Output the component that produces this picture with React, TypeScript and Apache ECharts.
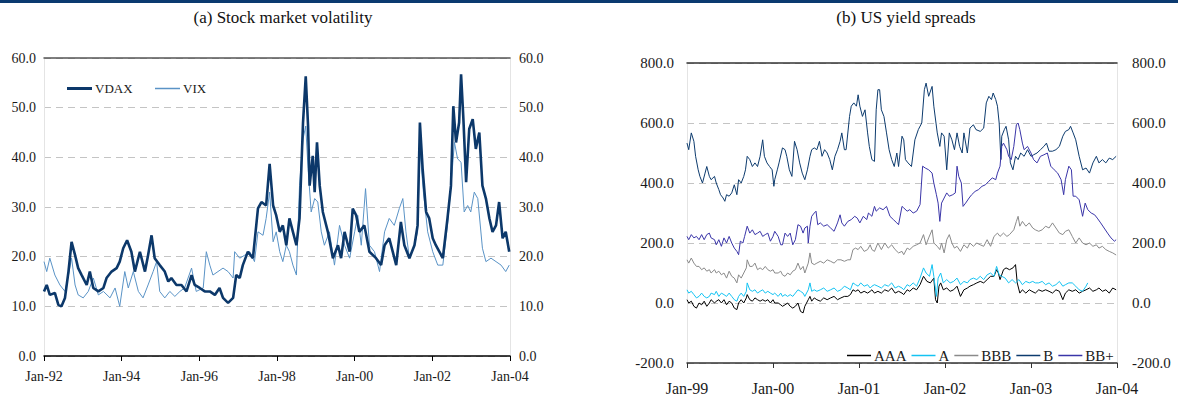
import React, { useEffect, useRef } from "react";
import * as echarts from "echarts";

// ---------- (a) Stock market volatility: [decimal year, level] ----------
const VDAX: [number, number][] = [[1992.00,13.0],[1992.07,14.3],[1992.15,12.3],[1992.28,12.7],[1992.37,10.3],[1992.45,10.0],[1992.54,11.7],[1992.63,17.0],[1992.71,23.0],[1992.80,20.3],[1992.88,17.7],[1992.97,16.3],[1993.10,14.3],[1993.18,17.0],[1993.27,13.7],[1993.40,13.0],[1993.53,13.7],[1993.61,15.7],[1993.74,17.0],[1993.87,17.7],[1993.95,19.0],[1994.04,21.7],[1994.14,23.3],[1994.25,21.0],[1994.34,17.0],[1994.47,21.0],[1994.60,17.0],[1994.68,20.3],[1994.77,24.3],[1994.85,19.7],[1994.98,18.3],[1995.11,17.0],[1995.20,15.0],[1995.28,15.7],[1995.41,14.3],[1995.54,14.3],[1995.67,13.0],[1995.80,16.3],[1995.88,14.3],[1996.01,13.7],[1996.14,13.0],[1996.27,13.0],[1996.40,12.3],[1996.52,13.7],[1996.61,11.7],[1996.74,10.7],[1996.87,11.7],[1996.95,16.3],[1997.04,15.7],[1997.12,18.3],[1997.25,21.0],[1997.38,19.7],[1997.51,29.7],[1997.60,31.0],[1997.72,30.3],[1997.81,38.7],[1997.90,30.3],[1997.98,28.3],[1998.07,25.0],[1998.15,26.3],[1998.24,22.3],[1998.32,27.7],[1998.41,25.0],[1998.50,22.3],[1998.58,27.7],[1998.67,47.0],[1998.74,56.3],[1998.80,46.3],[1998.84,34.3],[1998.92,40.3],[1998.97,33.0],[1999.03,43.0],[1999.10,34.3],[1999.18,29.0],[1999.31,25.0],[1999.44,19.7],[1999.57,22.3],[1999.65,19.7],[1999.74,25.0],[1999.87,21.0],[1999.95,29.7],[2000.04,28.3],[2000.12,25.0],[2000.25,26.3],[2000.38,21.0],[2000.55,19.7],[2000.68,18.3],[2000.77,22.3],[2000.89,23.7],[2000.98,21.0],[2001.07,18.3],[2001.19,27.0],[2001.28,22.3],[2001.41,19.7],[2001.54,22.3],[2001.62,26.3],[2001.68,47.0],[2001.75,37.7],[2001.84,29.0],[2001.92,27.7],[2002.01,23.7],[2002.09,22.3],[2002.18,21.0],[2002.27,19.7],[2002.39,27.7],[2002.48,34.3],[2002.54,50.3],[2002.61,43.0],[2002.69,47.0],[2002.74,56.7],[2002.80,47.7],[2002.87,35.0],[2002.95,45.7],[2003.04,47.7],[2003.12,41.7],[2003.21,45.0],[2003.29,34.3],[2003.38,31.7],[2003.47,27.7],[2003.55,25.0],[2003.64,26.3],[2003.72,31.0],[2003.81,23.7],[2003.89,25.0],[2003.98,21.0]];

const VIX: [number, number][] = [[1992.00,19.0],[1992.07,17.0],[1992.15,19.7],[1992.28,16.3],[1992.41,14.3],[1992.54,13.0],[1992.63,16.3],[1992.71,19.7],[1992.80,14.3],[1992.88,12.3],[1993.01,11.7],[1993.14,13.0],[1993.27,15.7],[1993.40,12.3],[1993.53,13.0],[1993.70,11.7],[1993.83,13.7],[1993.95,10.0],[1994.08,17.0],[1994.17,13.7],[1994.30,17.0],[1994.43,13.0],[1994.55,11.7],[1994.68,14.3],[1994.81,17.0],[1994.90,19.0],[1994.98,13.0],[1995.11,11.7],[1995.24,13.0],[1995.37,12.0],[1995.50,13.0],[1995.62,13.7],[1995.80,17.7],[1995.92,13.0],[1996.10,13.7],[1996.18,21.0],[1996.27,18.3],[1996.35,16.3],[1996.48,17.0],[1996.61,17.7],[1996.74,17.0],[1996.87,15.7],[1996.91,21.0],[1997.04,19.7],[1997.17,20.3],[1997.30,21.0],[1997.42,19.0],[1997.51,25.0],[1997.64,24.3],[1997.72,27.7],[1997.81,33.0],[1997.90,23.0],[1997.98,25.0],[1998.07,21.0],[1998.15,19.0],[1998.24,22.3],[1998.32,21.0],[1998.41,18.3],[1998.50,16.3],[1998.58,34.3],[1998.67,43.7],[1998.74,46.3],[1998.80,37.7],[1998.88,29.0],[1998.97,31.7],[1999.05,31.0],[1999.14,25.0],[1999.22,22.3],[1999.35,25.0],[1999.48,18.3],[1999.61,26.3],[1999.74,22.3],[1999.87,19.7],[2000.00,25.0],[2000.08,28.3],[2000.17,22.3],[2000.28,33.7],[2000.38,22.3],[2000.51,21.0],[2000.64,17.0],[2000.77,25.0],[2000.89,27.7],[2001.02,26.3],[2001.15,29.7],[2001.24,31.7],[2001.32,25.0],[2001.41,19.7],[2001.54,22.3],[2001.62,25.0],[2001.68,41.7],[2001.77,33.0],[2001.88,25.0],[2002.01,21.0],[2002.14,18.3],[2002.27,18.3],[2002.39,26.3],[2002.48,34.3],[2002.57,43.0],[2002.65,39.7],[2002.74,39.0],[2002.82,29.0],[2002.91,30.3],[2002.99,29.0],[2003.08,33.0],[2003.17,31.7],[2003.29,21.7],[2003.38,19.0],[2003.51,19.7],[2003.64,19.0],[2003.77,18.3],[2003.89,17.0],[2003.98,18.3]];

// ---------- (b) US yield spreads: [decimal year, basis points] ----------
const AAA: [number, number][] = [[1999.00,11],[1999.02,0],[1999.05,6],[1999.08,-11],[1999.11,-17],[1999.14,0],[1999.17,-6],[1999.20,6],[1999.23,-11],[1999.26,0],[1999.28,11],[1999.32,0],[1999.34,6],[1999.37,11],[1999.40,0],[1999.43,11],[1999.46,-6],[1999.49,6],[1999.52,0],[1999.55,-17],[1999.58,-22],[1999.60,0],[1999.63,11],[1999.66,0],[1999.69,17],[1999.70,28],[1999.73,11],[1999.76,6],[1999.79,17],[1999.82,11],[1999.85,6],[1999.88,11],[1999.91,6],[1999.94,11],[1999.97,0],[2000.00,11],[2000.02,0],[2000.06,0],[2000.09,-6],[2000.11,-11],[2000.14,-6],[2000.17,0],[2000.20,-11],[2000.23,-17],[2000.26,-11],[2000.29,0],[2000.32,-28],[2000.35,-33],[2000.37,-11],[2000.41,11],[2000.43,22],[2000.45,6],[2000.48,17],[2000.51,11],[2000.55,6],[2000.59,17],[2000.63,11],[2000.67,17],[2000.71,22],[2000.75,11],[2000.79,17],[2000.83,22],[2000.87,22],[2000.90,28],[2000.93,44],[2000.96,39],[2000.99,44],[2001.02,33],[2001.06,39],[2001.10,33],[2001.13,39],[2001.15,44],[2001.18,33],[2001.22,39],[2001.26,33],[2001.30,44],[2001.34,39],[2001.38,50],[2001.42,33],[2001.46,39],[2001.50,33],[2001.52,28],[2001.56,44],[2001.59,39],[2001.63,50],[2001.67,44],[2001.71,61],[2001.75,89],[2001.79,72],[2001.83,67],[2001.87,83],[2001.89,11],[2001.91,0],[2001.93,56],[2001.95,67],[2001.98,44],[2002.02,50],[2002.06,39],[2002.10,44],[2002.14,56],[2002.18,22],[2002.22,44],[2002.26,50],[2002.29,56],[2002.33,61],[2002.37,67],[2002.41,72],[2002.45,67],[2002.49,78],[2002.53,89],[2002.57,89],[2002.60,111],[2002.62,100],[2002.64,78],[2002.68,111],[2002.71,117],[2002.75,111],[2002.79,117],[2002.82,128],[2002.84,67],[2002.87,33],[2002.90,44],[2002.94,33],[2002.98,44],[2003.01,39],[2003.05,33],[2003.09,44],[2003.13,39],[2003.17,44],[2003.21,39],[2003.25,33],[2003.29,44],[2003.33,39],[2003.37,11],[2003.40,33],[2003.44,44],[2003.48,39],[2003.52,44],[2003.56,33],[2003.60,39],[2003.64,44],[2003.68,50],[2003.72,39],[2003.76,44],[2003.79,50],[2003.83,39],[2003.87,44],[2003.91,33],[2003.95,50],[2003.99,44]];

const A: [number, number][] = [[1999.00,44],[1999.02,33],[1999.05,39],[1999.08,28],[1999.11,17],[1999.14,22],[1999.17,33],[1999.20,22],[1999.23,17],[1999.26,22],[1999.28,33],[1999.32,28],[1999.34,39],[1999.37,22],[1999.40,33],[1999.43,28],[1999.46,22],[1999.49,33],[1999.52,22],[1999.55,11],[1999.58,6],[1999.60,22],[1999.63,33],[1999.66,22],[1999.69,39],[1999.70,67],[1999.73,44],[1999.76,39],[1999.79,44],[1999.82,33],[1999.85,39],[1999.88,44],[1999.91,33],[1999.94,39],[1999.97,33],[2000.00,28],[2000.02,33],[2000.06,22],[2000.09,33],[2000.11,22],[2000.14,28],[2000.17,22],[2000.20,28],[2000.23,22],[2000.26,33],[2000.29,44],[2000.32,39],[2000.35,33],[2000.37,22],[2000.41,44],[2000.43,67],[2000.45,39],[2000.48,44],[2000.51,39],[2000.55,44],[2000.59,50],[2000.63,39],[2000.67,44],[2000.71,50],[2000.75,39],[2000.79,44],[2000.83,56],[2000.87,50],[2000.90,44],[2000.93,67],[2000.96,61],[2000.99,56],[2001.02,67],[2001.06,56],[2001.10,61],[2001.13,50],[2001.15,56],[2001.18,61],[2001.22,56],[2001.26,50],[2001.30,61],[2001.34,56],[2001.38,67],[2001.42,50],[2001.46,56],[2001.50,50],[2001.52,44],[2001.56,61],[2001.59,56],[2001.63,67],[2001.67,56],[2001.71,83],[2001.75,117],[2001.78,100],[2001.82,89],[2001.85,128],[2001.87,89],[2001.90,22],[2001.92,83],[2001.95,100],[2001.98,67],[2002.02,78],[2002.06,67],[2002.10,72],[2002.14,83],[2002.18,61],[2002.22,72],[2002.26,67],[2002.29,78],[2002.33,83],[2002.37,78],[2002.41,89],[2002.45,78],[2002.49,94],[2002.53,100],[2002.57,89],[2002.60,122],[2002.63,94],[2002.66,89],[2002.70,83],[2002.74,67],[2002.78,78],[2002.82,67],[2002.86,78],[2002.90,61],[2002.94,72],[2002.98,67],[2003.02,72],[2003.05,67],[2003.09,67],[2003.13,72],[2003.17,61],[2003.21,67],[2003.25,56],[2003.29,61],[2003.33,72],[2003.37,56],[2003.40,61],[2003.44,67],[2003.48,67],[2003.52,56],[2003.56,44],[2003.60,39],[2003.64,56],[2003.66,67]];

const BBB: [number, number][] = [[1999.00,144],[1999.02,133],[1999.05,150],[1999.08,133],[1999.11,122],[1999.14,122],[1999.17,111],[1999.20,117],[1999.23,106],[1999.26,111],[1999.28,100],[1999.32,111],[1999.34,100],[1999.37,106],[1999.40,94],[1999.43,100],[1999.46,83],[1999.49,106],[1999.52,89],[1999.55,83],[1999.58,67],[1999.60,94],[1999.63,83],[1999.66,100],[1999.69,117],[1999.70,144],[1999.73,122],[1999.76,122],[1999.79,133],[1999.82,111],[1999.85,117],[1999.88,111],[1999.91,122],[1999.94,111],[1999.97,106],[2000.00,111],[2000.02,100],[2000.06,100],[2000.09,106],[2000.11,94],[2000.14,89],[2000.17,100],[2000.20,94],[2000.23,106],[2000.26,111],[2000.29,133],[2000.32,111],[2000.35,122],[2000.37,100],[2000.41,133],[2000.43,167],[2000.45,133],[2000.48,128],[2000.51,133],[2000.55,139],[2000.59,133],[2000.63,144],[2000.67,139],[2000.71,133],[2000.75,144],[2000.79,144],[2000.83,139],[2000.87,144],[2000.90,144],[2000.93,178],[2000.96,183],[2000.99,178],[2001.02,189],[2001.06,172],[2001.10,178],[2001.13,194],[2001.15,178],[2001.18,172],[2001.22,200],[2001.26,178],[2001.30,200],[2001.34,183],[2001.38,194],[2001.42,178],[2001.46,167],[2001.50,172],[2001.52,161],[2001.56,183],[2001.59,178],[2001.63,189],[2001.67,194],[2001.71,200],[2001.75,228],[2001.78,194],[2001.81,217],[2001.85,244],[2001.87,200],[2001.91,189],[2001.94,178],[2001.96,200],[2001.99,167],[2002.02,211],[2002.05,228],[2002.08,200],[2002.11,183],[2002.14,189],[2002.18,172],[2002.22,194],[2002.26,183],[2002.29,200],[2002.33,189],[2002.37,200],[2002.41,194],[2002.45,189],[2002.49,211],[2002.53,189],[2002.57,222],[2002.61,233],[2002.64,222],[2002.68,233],[2002.72,222],[2002.75,228],[2002.80,244],[2002.83,272],[2002.85,289],[2002.87,256],[2002.90,272],[2002.94,256],[2002.98,267],[2003.02,250],[2003.05,244],[2003.09,239],[2003.13,244],[2003.17,256],[2003.21,250],[2003.25,267],[2003.29,250],[2003.33,233],[2003.37,228],[2003.40,239],[2003.44,244],[2003.48,222],[2003.52,200],[2003.56,217],[2003.60,200],[2003.64,194],[2003.68,200],[2003.72,189],[2003.76,194],[2003.79,183],[2003.83,189],[2003.87,178],[2003.91,172],[2003.95,167],[2003.99,160]];

const B: [number, number][] = [[1999.00,533],[1999.02,511],[1999.05,567],[1999.08,539],[1999.10,489],[1999.13,444],[1999.15,422],[1999.18,400],[1999.21,433],[1999.23,455],[1999.26,422],[1999.28,411],[1999.32,422],[1999.34,400],[1999.37,378],[1999.39,361],[1999.42,350],[1999.44,339],[1999.46,361],[1999.49,356],[1999.52,367],[1999.55,394],[1999.58,361],[1999.60,411],[1999.63,400],[1999.66,422],[1999.68,444],[1999.70,489],[1999.73,478],[1999.76,455],[1999.79,467],[1999.82,455],[1999.85,489],[1999.88,544],[1999.90,489],[1999.93,467],[1999.96,455],[1999.99,444],[2000.01,389],[2000.02,411],[2000.05,444],[2000.07,467],[2000.11,517],[2000.14,511],[2000.16,489],[2000.19,444],[2000.22,422],[2000.25,539],[2000.28,511],[2000.31,467],[2000.34,433],[2000.37,411],[2000.40,444],[2000.43,489],[2000.45,511],[2000.48,517],[2000.51,511],[2000.54,539],[2000.57,489],[2000.60,511],[2000.63,500],[2000.66,478],[2000.69,444],[2000.72,489],[2000.75,511],[2000.78,539],[2000.80,567],[2000.83,511],[2000.85,511],[2000.89,622],[2000.91,656],[2000.94,667],[2000.97,656],[2000.99,694],[2001.01,656],[2001.04,622],[2001.07,644],[2001.10,567],[2001.12,522],[2001.15,478],[2001.18,472],[2001.20,644],[2001.22,711],[2001.24,711],[2001.26,644],[2001.29,622],[2001.32,567],[2001.35,511],[2001.38,478],[2001.41,455],[2001.44,500],[2001.46,455],[2001.50,556],[2001.52,544],[2001.54,478],[2001.57,467],[2001.61,455],[2001.65,544],[2001.69,578],[2001.73,600],[2001.76,711],[2001.78,733],[2001.81,689],[2001.85,722],[2001.87,656],[2001.91,567],[2001.94,522],[2001.96,567],[2001.99,556],[2002.02,444],[2002.05,567],[2002.08,544],[2002.11,511],[2002.14,567],[2002.17,522],[2002.20,500],[2002.22,567],[2002.26,500],[2002.29,583],[2002.33,594],[2002.36,578],[2002.41,572],[2002.45,583],[2002.48,667],[2002.51,689],[2002.54,678],[2002.56,700],[2002.59,678],[2002.61,656],[2002.63,600],[2002.65,478],[2002.66,556],[2002.69,578],[2002.71,589],[2002.74,544],[2002.76,467],[2002.79,444],[2002.82,489],[2002.85,478],[2002.88,500],[2002.92,489],[2002.96,511],[2003.00,489],[2003.03,494],[2003.07,500],[2003.11,511],[2003.15,522],[2003.18,533],[2003.21,506],[2003.25,506],[2003.29,511],[2003.33,522],[2003.37,556],[2003.40,572],[2003.44,578],[2003.46,589],[2003.49,567],[2003.52,544],[2003.56,489],[2003.60,444],[2003.64,450],[2003.68,433],[2003.72,467],[2003.76,489],[2003.79,467],[2003.83,478],[2003.87,467],[2003.91,483],[2003.95,478],[2003.99,489]];

const BBPLUS: [number, number][] = [[1999.00,222],[1999.02,211],[1999.05,228],[1999.08,217],[1999.11,222],[1999.14,211],[1999.17,228],[1999.20,211],[1999.23,228],[1999.26,233],[1999.28,217],[1999.32,211],[1999.34,194],[1999.37,211],[1999.40,189],[1999.43,217],[1999.46,200],[1999.49,222],[1999.52,200],[1999.55,183],[1999.58,172],[1999.60,161],[1999.62,206],[1999.65,200],[1999.67,222],[1999.70,256],[1999.73,233],[1999.76,244],[1999.79,228],[1999.82,233],[1999.85,239],[1999.88,222],[1999.91,228],[1999.94,233],[1999.97,206],[2000.00,222],[2000.02,239],[2000.06,222],[2000.09,194],[2000.11,194],[2000.14,233],[2000.17,222],[2000.20,233],[2000.23,194],[2000.26,211],[2000.29,261],[2000.32,256],[2000.35,233],[2000.37,250],[2000.40,256],[2000.41,200],[2000.43,256],[2000.45,289],[2000.48,300],[2000.50,306],[2000.52,261],[2000.55,267],[2000.59,256],[2000.63,261],[2000.67,250],[2000.71,239],[2000.75,267],[2000.78,294],[2000.80,267],[2000.83,256],[2000.87,272],[2000.91,278],[2000.95,289],[2000.98,283],[2001.01,267],[2001.05,289],[2001.09,278],[2001.11,300],[2001.15,289],[2001.18,322],[2001.20,306],[2001.24,317],[2001.28,311],[2001.32,322],[2001.36,289],[2001.40,278],[2001.44,267],[2001.46,261],[2001.50,322],[2001.52,317],[2001.56,306],[2001.59,311],[2001.63,300],[2001.67,306],[2001.71,328],[2001.74,456],[2001.77,450],[2001.81,444],[2001.85,433],[2001.87,400],[2001.90,361],[2001.92,333],[2001.94,272],[2001.96,333],[2001.99,350],[2002.02,367],[2002.05,356],[2002.09,361],[2002.12,367],[2002.14,456],[2002.16,422],[2002.19,400],[2002.21,322],[2002.24,333],[2002.28,350],[2002.31,361],[2002.35,372],[2002.39,378],[2002.43,389],[2002.47,394],[2002.51,406],[2002.55,417],[2002.59,411],[2002.61,433],[2002.64,456],[2002.66,522],[2002.68,533],[2002.72,511],[2002.74,489],[2002.77,478],[2002.80,522],[2002.83,594],[2002.85,600],[2002.87,578],[2002.90,533],[2002.92,511],[2002.96,522],[2003.00,500],[2003.03,478],[2003.07,467],[2003.11,489],[2003.15,494],[2003.19,500],[2003.23,456],[2003.27,444],[2003.31,433],[2003.35,411],[2003.38,361],[2003.40,411],[2003.44,456],[2003.47,444],[2003.49,356],[2003.52,356],[2003.56,344],[2003.60,289],[2003.63,333],[2003.66,311],[2003.70,300],[2003.74,294],[2003.77,283],[2003.81,267],[2003.85,250],[2003.89,233],[2003.93,217],[2003.97,206],[2003.99,211]];

const TITLE_A = "(a) Stock market volatility";
const TITLE_B = "(b) US yield spreads";

const SERIF = "'Liberation Serif', 'Times New Roman', serif";
const fmtYear = (v: number) => "Jan-" + String(Math.round(v)).slice(2);
const fmt1 = (v: number) => v.toFixed(1);

export default function App() {
  const ref = useRef<HTMLDivElement>(null);
  useEffect(() => {
    const chart = echarts.init(ref.current as HTMLDivElement, undefined, { renderer: "svg" });
    const lblA = { fontFamily: SERIF, fontSize: 14, color: "#1a1a1a" };
    const lblB = { fontFamily: SERIF, fontSize: 15, color: "#1a1a1a" };
    const dashed = { show: true, lineStyle: { color: "#c4c4c4", type: [7, 5], width: 1 } };
    const sideLine = { show: true, lineStyle: { color: "#e4e4e4", width: 1 } };
    const yBase = (gridIndex: number, min: number, max: number, interval: number, pos: "left" | "right", margin: number, lbl: any) => ({
      type: "value", gridIndex, min, max, interval, position: pos,
      axisLine: sideLine, axisTick: { show: false },
      axisLabel: { ...lbl, formatter: fmt1, margin },
      splitLine: pos === "left" ? dashed : { show: false },
    });
    const legendText = (size: number) => ({ fontFamily: SERIF, fontSize: size, color: "#1a1a1a", padding: [0, 0, 0, -2] });
    const option = {
      animation: false,
      textStyle: { fontFamily: SERIF },
      graphic: [
        { type: "rect", left: 0, top: 0, shape: { width: 1178, height: 3 }, style: { fill: "#0b3a70" } },
        { type: "text", x: 283, y: 17, style: { text: TITLE_A, fontFamily: SERIF, fontSize: 17, fill: "#111", align: "center", verticalAlign: "middle" } },
        { type: "text", x: 906, y: 17, style: { text: TITLE_B, fontFamily: SERIF, fontSize: 17, fill: "#111", align: "center", verticalAlign: "middle" } },
      ],
      grid: [
        { left: 44, right: 668, top: 58, bottom: 44 },
        { left: 687, right: 61, top: 63, bottom: 37 },
      ],
      legend: [
        { data: ["VDAX"], icon: "rect", left: 62, top: 77, itemWidth: 25, itemHeight: 3, textStyle: legendText(13) },
        { data: ["VIX"], icon: "rect", left: 150, top: 77, itemWidth: 25, itemHeight: 1.5, textStyle: legendText(13) },
        { data: ["AAA", "A", "BBB", "B", "BB+"], icon: "rect", left: 842, top: 343, itemWidth: 24, itemHeight: 1.5, itemGap: 5, textStyle: legendText(15) },
      ],
      xAxis: [
        { type: "value", gridIndex: 0, min: 1992, max: 2004, interval: 2, position: "bottom",
          axisLine: { show: true, onZero: false, lineStyle: { color: "#000", width: 1.5 } },
          axisTick: { show: true, inside: false, length: 5, lineStyle: { color: "#000" } },
          axisLabel: { ...lblA, formatter: fmtYear, margin: 13 }, splitLine: { show: false } },
        { type: "value", gridIndex: 0, min: 1992, max: 2004, position: "top",
          axisLine: { show: true, onZero: false, lineStyle: { color: "#555", width: 1.5 } },
          axisTick: { show: false }, axisLabel: { show: false }, splitLine: { show: false } },
        { type: "value", gridIndex: 1, min: 1999, max: 2004, interval: 1, position: "bottom",
          axisLine: { show: true, onZero: false, lineStyle: { color: "#333", width: 1.5 } },
          axisTick: { show: true, inside: false, length: 5, lineStyle: { color: "#333" } },
          axisLabel: { ...lblB, fontSize: 16, formatter: fmtYear, margin: 17 }, splitLine: { show: false } },
        { type: "value", gridIndex: 1, min: 1999, max: 2004, position: "top",
          axisLine: { show: true, onZero: false, lineStyle: { color: "#333", width: 1.5 } },
          axisTick: { show: false }, axisLabel: { show: false }, splitLine: { show: false } },
      ],
      yAxis: [
        yBase(0, 0, 60, 10, "left", 8, lblA),
        yBase(0, 0, 60, 10, "right", 9, lblA),
        yBase(1, -200, 800, 200, "left", 13, lblB),
        yBase(1, -200, 800, 200, "right", 15, lblB),
      ],
      series: [
        { name: "VIX", type: "line", xAxisIndex: 0, yAxisIndex: 0, data: VIX, showSymbol: false, symbol: "none",
          lineStyle: { color: "#5a93c6", width: 1 }, itemStyle: { color: "#5a93c6" } },
        { name: "VDAX", type: "line", xAxisIndex: 0, yAxisIndex: 0, data: VDAX, showSymbol: false, symbol: "none",
          lineStyle: { color: "#0c386a", width: 2.6 }, itemStyle: { color: "#0c386a" } },
        { name: "AAA", type: "line", xAxisIndex: 2, yAxisIndex: 2, data: AAA, showSymbol: false, symbol: "none",
          lineStyle: { color: "#000000", width: 1 }, itemStyle: { color: "#000000" } },
        { name: "A", type: "line", xAxisIndex: 2, yAxisIndex: 2, data: A, showSymbol: false, symbol: "none",
          lineStyle: { color: "#14c3f2", width: 1 }, itemStyle: { color: "#14c3f2" } },
        { name: "BBB", type: "line", xAxisIndex: 2, yAxisIndex: 2, data: BBB, showSymbol: false, symbol: "none",
          lineStyle: { color: "#8a8a8a", width: 1 }, itemStyle: { color: "#8a8a8a" } },
        { name: "B", type: "line", xAxisIndex: 2, yAxisIndex: 2, data: B, showSymbol: false, symbol: "none",
          lineStyle: { color: "#0d3b6e", width: 1 }, itemStyle: { color: "#0d3b6e" } },
        { name: "BB+", type: "line", xAxisIndex: 2, yAxisIndex: 2, data: BBPLUS, showSymbol: false, symbol: "none",
          lineStyle: { color: "#3a35a8", width: 1 }, itemStyle: { color: "#3a35a8" } },
      ],
    };
    chart.setOption(option as any);
    return () => chart.dispose();
  }, []);
  return <div ref={ref} style={{ position: "fixed", left: 0, top: 0, width: 1178, height: 400, background: "#fff" }} />;
}
